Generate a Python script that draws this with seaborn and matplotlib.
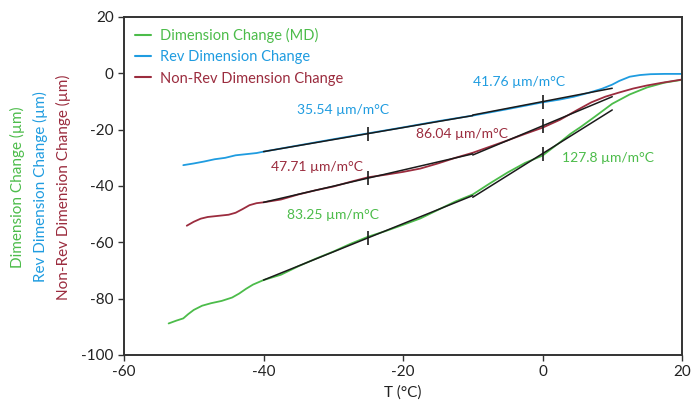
import matplotlib
matplotlib.use("Agg")
import matplotlib.pyplot as plt
import seaborn as sns
import pandas as pd
import numpy as np

# ---- data ----
green_T = [-53.6, -52.5, -51.5, -50.8, -50.0, -48.8, -47.5, -46.0, -44.5, -43.5, -42.5, -41.5, -40.0,
           -37.5, -35.0, -32.5, -30.0, -27.5, -25.0, -22.5, -20.0, -17.5, -15.0, -12.5, -10.0,
           -7.5, -5.0, -2.5, 0.0, 2.5, 4.0, 5.5, 7.5, 10.0, 12.5, 15.0, 17.5, 20.0]
green_y = [-88.8, -87.8, -87.0, -85.5, -84.0, -82.5, -81.6, -80.8, -79.6, -78.2, -76.5, -75.0, -73.4,
           -71.5, -68.5, -65.8, -63.3, -60.5, -58.0, -56.0, -53.8, -51.5, -48.5, -45.5, -43.0,
           -39.0, -35.2, -31.8, -29.2, -24.5, -21.5, -19.0, -15.4, -10.8, -7.5, -5.0, -3.3, -2.3]

blue_T = [-51.5, -50.0, -48.5, -47.0, -45.5, -44.0, -42.5, -41.0, -40.0, -35.0, -30.0, -25.0, -20.0,
          -15.0, -10.0, -5.0, 0.0, 2.5, 4.5, 6.5, 8.5, 10.0, 11.0, 12.5, 14.0, 15.5, 17.5, 20.0]
blue_y = [-32.6, -32.0, -31.3, -30.5, -30.0, -29.1, -28.7, -28.3, -27.8, -25.6, -23.4, -21.3, -19.2,
          -17.0, -15.0, -12.7, -10.3, -9.3, -8.3, -7.0, -5.5, -4.0, -2.7, -1.2, -0.6, -0.3, -0.2, -0.2]

red_T = [-51.0, -50.0, -49.0, -48.0, -46.5, -45.0, -44.0, -43.0, -42.0, -41.0, -40.0, -37.5, -35.0,
         -32.5, -30.0, -27.5, -25.0, -22.5, -20.0, -17.5, -15.0, -12.5, -10.0, -7.5, -5.0, -2.5,
         0.0, 2.5, 5.0, 7.0, 9.0, 11.0, 13.0, 15.0, 17.0, 20.0]
red_y = [-54.1, -52.7, -51.6, -51.0, -50.6, -50.2, -49.5, -48.2, -46.8, -46.1, -45.8, -44.8, -43.0,
         -41.5, -40.2, -38.5, -36.9, -36.0, -35.0, -33.8, -32.0, -30.0, -28.2, -26.0, -23.8, -21.5,
         -19.3, -16.5, -13.0, -10.3, -8.3, -6.8, -5.4, -4.3, -3.4, -2.2]

series_names = ["Dimension Change (MD)", "Rev Dimension Change", "Non-Rev Dimension Change"]
colors = ["#4cbc4a", "#1f9ce0", "#9b2c3e"]

# linear fit segments
fit_T0 = [-40, -10, -40, -10, -40, -10]
fit_y0 = [-73.4, -44.0, -27.8, -14.8, -45.8, -29.0]
fit_T1 = [-10, 10, -10, 10, -10, 10]
fit_y1 = [-43.4, -13.0, -15.0, -5.3, -28.6, -8.3]
fit_tick_T = [-25, 0, -25, 0, -25, 0]
fit_series = [0, 0, 1, 1, 2, 2]

label_texts = ["83.25 µm/m°C", "127.8 µm/m°C", "35.54 µm/m°C", "41.76 µm/m°C",
               "47.71 µm/m°C", "86.04 µm/m°C"]
label_T = [-30.0, 9.4, -28.6, -3.4, -32.3, -11.5]
label_y = [-50.3, -30.2, -13.0, -3.0, -33.1, -21.6]

x_ticks = [-60, -40, -20, 0, 20]
y_ticks = [-100, -80, -60, -40, -20, 0, 20]

# ---- build frame ----
df = pd.concat([
    pd.DataFrame({"T": green_T, "y": green_y, "series": series_names[0]}),
    pd.DataFrame({"T": blue_T, "y": blue_y, "series": series_names[1]}),
    pd.DataFrame({"T": red_T, "y": red_y, "series": series_names[2]}),
], ignore_index=True)

sns.set_style("ticks")
plt.rcParams['font.family'] = ['Lato', 'DejaVu Sans']
plt.rcParams['axes.unicode_minus'] = False

fig = plt.figure(figsize=(6.93, 4.12), dpi=100)
ax = fig.add_axes([124/693, 1 - 355/412, (682-124)/693, (355-17)/412])

sns.lineplot(data=df, x="T", y="y", hue="series", palette=dict(zip(series_names, colors)),
             sort=False, estimator=None, linewidth=1.3, ax=ax, legend=False)

for i in range(len(fit_T0)):
    ax.plot([fit_T0[i], fit_T1[i]], [fit_y0[i], fit_y1[i]], color="#1a1a1a", lw=1.1, zorder=3)
    slope = (fit_y1[i] - fit_y0[i]) / (fit_T1[i] - fit_T0[i])
    ty = fit_y0[i] + slope * (fit_tick_T[i] - fit_T0[i])
    ax.plot([fit_tick_T[i]], [ty], marker="|", markersize=10, mew=1.2, color="#1a1a1a", zorder=4)

for i in range(len(label_texts)):
    ax.text(label_T[i], label_y[i], label_texts[i], color=colors[fit_series[i]],
            ha="center", va="center", fontsize=10)

ax.set_xlim(-60, 20)
ax.set_ylim(-100, 20)
ax.set_xticks(x_ticks)
ax.set_yticks(y_ticks)
ax.tick_params(axis="both", labelsize=11, colors="#333333", length=4, width=1, labelcolor="#222222")
for s in ax.spines.values():
    s.set_visible(True)
    s.set_color("#333333")
    s.set_linewidth(1.4)
ax.set_xlabel("T (°C)", fontsize=11, color="#222222")
ax.set_ylabel("")

# legend
from matplotlib.lines import Line2D
handles = [Line2D([0], [0], color=c, lw=1.5) for c in colors]
leg = ax.legend(handles, series_names, loc="upper left", frameon=False, fontsize=10.5,
                handlelength=1.1, handletextpad=0.6, labelspacing=0.5,
                bbox_to_anchor=(0.0, 1.0), borderaxespad=0.35)
for t, c in zip(leg.get_texts(), colors):
    t.set_color(c)

# stacked colored y-labels
ylab_texts = ["Dimension Change (µm)", "Rev Dimension Change (µm)", "Non-Rev Dimension Change (µm)"]
ylab_x = [17, 40, 63]
for t, xp, c in zip(ylab_texts, ylab_x, colors):
    fig.text(xp/693, 1 - 187/412, t, rotation=90, color=c, ha="center", va="center", fontsize=11)

fig.savefig("out.png", dpi=100)
